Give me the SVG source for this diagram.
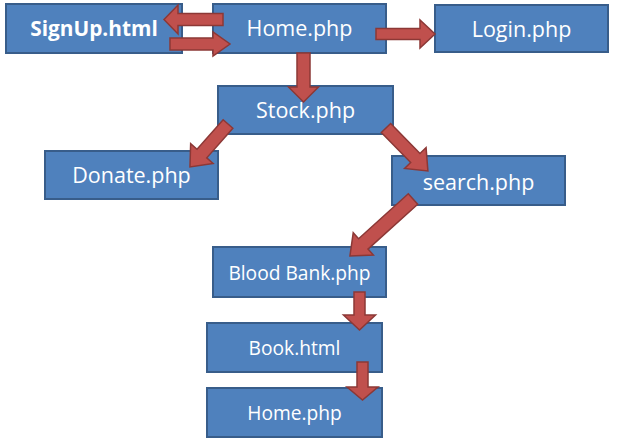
<svg xmlns="http://www.w3.org/2000/svg" width="619" height="445" viewBox="0 0 619 445">
  <style>
    .box { fill: #4F81BD; stroke: #385D8A; stroke-width: 2; }
    .lbl { fill: #FFFFFF; font-family: "Open Sans", "Noto Sans", sans-serif; text-anchor: middle; }
    .big { font-size: 21.5px; }
    .small { font-size: 19.2px; }
    .bold { font-weight: bold; font-size: 20.8px; }
    .arrow { fill: #C0504D; stroke: #8C3836; stroke-width: 1.5; stroke-linejoin: miter; }
  </style>
  <rect width="619" height="445" fill="#FFFFFF"/>
  <g id="signup">
    <rect class="box" x="6" y="4" width="176" height="49"/>
    <text class="lbl bold" x="94" y="35.5">SignUp.html</text>
  </g>
  <g id="home">
    <rect class="box" x="213" y="4" width="173" height="49"/>
    <text class="lbl big" x="299.5" y="35.5">Home.php</text>
  </g>
  <g id="login">
    <rect class="box" x="435" y="5" width="173" height="47"/>
    <text class="lbl big" x="521.5" y="37">Login.php</text>
  </g>
  <g id="stock">
    <rect class="box" x="218" y="86" width="175" height="48"/>
    <text class="lbl big" x="305.5" y="118">Stock.php</text>
  </g>
  <g id="donate">
    <rect class="box" x="45" y="151" width="173" height="48"/>
    <text class="lbl big" x="131.5" y="183">Donate.php</text>
  </g>
  <g id="search">
    <rect class="box" x="392" y="156" width="173" height="49"/>
    <text class="lbl big" x="478.5" y="190">search.php</text>
  </g>
  <g id="bloodbank">
    <rect class="box" x="213" y="247" width="173" height="50"/>
    <text class="lbl small" x="299.5" y="280">Blood Bank.php</text>
  </g>
  <g id="book">
    <rect class="box" x="207" y="323" width="175" height="49"/>
    <text class="lbl small" x="294.5" y="355">Book.html</text>
  </g>
  <g id="home2">
    <rect class="box" x="207" y="388" width="175" height="49"/>
    <text class="lbl small" x="294.5" y="420">Home.php</text>
  </g>
  <g id="connectors">
    <!-- Home -> SignUp -->
    <polygon class="arrow" transform="translate(223,19.5) rotate(180)" points="0,-6 45,-6 45,-14.5 59,0 45,14.5 45,6 0,6"/>
    <!-- SignUp -> Home -->
    <polygon class="arrow" transform="translate(170,44)" points="0,-6 43,-6 43,-12 60,0 43,12 43,6 0,6"/>
    <!-- Home -> Login -->
    <polygon class="arrow" transform="translate(376,34)" points="0,-5.5 44,-5.5 44,-14 59,0 44,14 44,5.5 0,5.5"/>
    <!-- Home -> Stock -->
    <polygon class="arrow" transform="translate(303.5,53) rotate(90)" points="0,-6.5 34,-6.5 34,-15 49,0 34,15 34,6.5 0,6.5"/>
    <!-- Stock -> Donate -->
    <polygon class="arrow" transform="translate(228,124) rotate(131.5)" points="0,-6.5 39.4,-6.5 39.4,-15 57.4,0 39.4,15 39.4,6.5 0,6.5"/>
    <!-- Stock -> search -->
    <polygon class="arrow" transform="translate(386,128) rotate(45.7)" points="0,-6.5 42,-6.5 42,-15 60,0 42,15 42,6.5 0,6.5"/>
    <!-- search -> Blood Bank -->
    <polygon class="arrow" transform="translate(413,199) rotate(137.9)" points="0,-7 67,-7 67,-15 85,0 67,15 67,7 0,7"/>
    <!-- Blood Bank -> Book -->
    <polygon class="arrow" transform="translate(359.5,292) rotate(90)" points="0,-5.5 23,-5.5 23,-16 38,0 23,16 23,5.5 0,5.5"/>
    <!-- Book -> Home -->
    <polygon class="arrow" transform="translate(362.5,362) rotate(90)" points="0,-5.5 25,-5.5 25,-15.5 38,0 25,15.5 25,5.5 0,5.5"/>
  </g>
</svg>
